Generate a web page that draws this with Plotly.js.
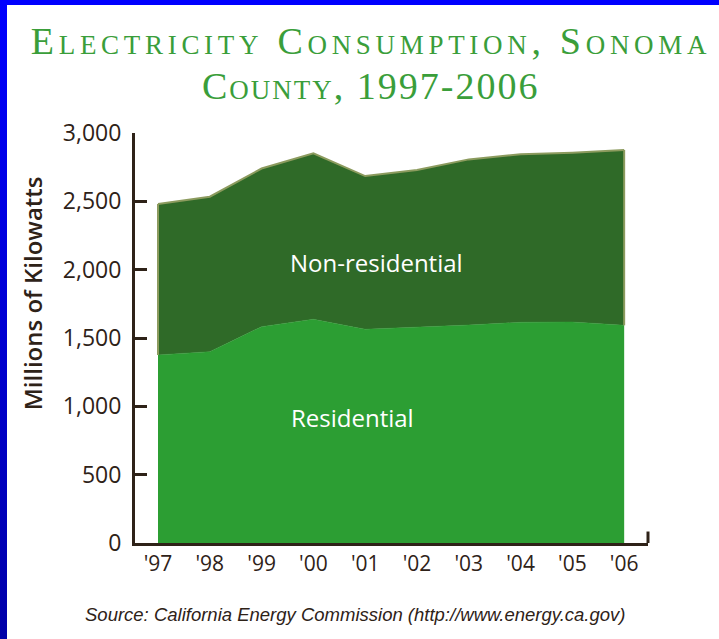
<!DOCTYPE html>
<html>
<head>
<meta charset="utf-8">
<script src="https://cdn.plot.ly/plotly-3.0.1.min.js"></script>
<style>
  body { margin: 0; background: #fff; }
  #chart { width: 719px; height: 639px; position: absolute; left: 0; top: 0; }
  .edge { position: absolute; z-index: 10; pointer-events: none; }
  #edgeLeft { left: 0; top: 0; width: 7px; height: 639px; background: linear-gradient(#0000ff, #0000a8); }
  #edgeTop { left: 0; top: 0; width: 719px; height: 5px; background: #0000ff; }
  /* the title in the original is widely tracked */
  .gtitle { letter-spacing: 4.7px; }
  .annotation[data-index="0"] text { letter-spacing: 2px; }
</style>
</head>
<body>
<div id="chart"></div>
<div class="edge" id="edgeLeft"></div>
<div class="edge" id="edgeTop"></div>
<script>
// Data (millions of kWh)
const years = ['97', '98', '99', '00', '01', '02', '03', '04', '05', '06'];
const yearLabels = years.map(y => "'" + y);
const residential = [1376, 1400, 1583, 1637, 1564, 1578, 1595, 1615, 1617, 1593];
const nonResidential = [1104, 1134, 1157, 1214, 1121, 1151, 1212, 1229, 1239, 1283];

const xIdx = years.map((_, i) => i);
const totals = residential.map((r, i) => r + nonResidential[i]);

const ink = '#2e2218';
const olive = '#8c9b5e';
const titleFont = { family: 'Liberation Serif, serif', size: 38, color: '#3a9e3a', variant: 'small-caps' };

const traces = [
    {
        x: xIdx,
        y: residential,
        type: 'scatter',
        mode: 'lines',
        stackgroup: 'one',
        fillcolor: '#2c9e33',
        line: { color: '#2c9e33', width: 0.5 },
        hoverinfo: 'skip'
    },
    {
        x: xIdx,
        y: nonResidential,
        type: 'scatter',
        mode: 'lines',
        stackgroup: 'one',
        fillcolor: '#2f6a28',
        line: { color: olive, width: 2 },
        hoverinfo: 'skip'
    }
];

const last = xIdx.length - 1;

const layout = {
    width: 719,
    height: 639,
    margin: { l: 135, r: 71, t: 133, b: 96 },
    paper_bgcolor: '#fff',
    plot_bgcolor: 'rgba(0,0,0,0)',
    showlegend: false,
    title: {
        text: 'Electricity Consumption, Sonoma',
        font: titleFont,
        xref: 'container',
        yref: 'container',
        x: 0.516,
        y: 1 - 27 / 639,
        yanchor: 'top'
    },
    xaxis: {
        range: [-0.444, 9.46],
        tickvals: xIdx,
        ticktext: yearLabels,
        showgrid: false,
        zeroline: false,
        showline: true,
        linecolor: ink,
        linewidth: 3,
        ticks: '',
        tickfont: { family: 'Open Sans, sans-serif', size: 21, color: ink },
        fixedrange: true
    },
    yaxis: {
        range: [0, 3000],
        tickvals: [0, 500, 1000, 1500, 2000, 2500, 3000],
        tickformat: ',d',
        showgrid: false,
        zeroline: false,
        showline: true,
        linecolor: ink,
        linewidth: 3,
        ticks: 'inside',
        ticklen: 12,
        tickwidth: 3,
        tickcolor: ink,
        ticklabelstandoff: 6,
        tickfont: { family: 'Open Sans, sans-serif', size: 23, color: ink },
        fixedrange: true
    },
    shapes: [
        // end tick on the right of the x axis
        { type: 'line', xref: 'paper', yref: 'paper', x0: 1, x1: 1, y0: 0, y1: 0.028,
          line: { color: ink, width: 3 } },
        // light edges of the stacked area
        { type: 'line', xref: 'x', yref: 'y', x0: 0, x1: 0, y0: residential[0], y1: totals[0],
          line: { color: olive, width: 2 } },
        { type: 'line', xref: 'x', yref: 'y', x0: last, x1: last, y0: residential[last], y1: totals[last],
          line: { color: olive, width: 2 } }
    ],
    annotations: [
        {
            // second title line
            text: 'County, 1997-2006',
            xref: 'paper', yref: 'paper', x: 0.46, y: 1.115, yanchor: 'middle',
            showarrow: false,
            font: titleFont
        },
        {
            text: 'Millions of Kilowatts',
            xref: 'paper', yref: 'paper', x: -0.2, y: 0.61,
            xanchor: 'center', yanchor: 'middle',
            textangle: -90, showarrow: false,
            font: { family: 'Open Sans, sans-serif', size: 24, color: ink, weight: 600 }
        },
        {
            text: 'Non-residential',
            xref: 'x', yref: 'y', x: 4.21, y: 2049, showarrow: false,
            font: { family: 'Open Sans, sans-serif', size: 24, color: '#ffffff' }
        },
        {
            text: 'Residential',
            xref: 'x', yref: 'y', x: 3.75, y: 915, showarrow: false,
            font: { family: 'Open Sans, sans-serif', size: 24, color: '#ffffff' }
        },
        {
            text: 'Source: California Energy Commission (http://www.energy.ca.gov)',
            xref: 'paper', yref: 'paper', x: 0.429, y: -0.205, showarrow: false,
            font: { family: 'Liberation Sans, sans-serif', size: 18.5, color: ink, style: 'italic' }
        }
    ]
};

Plotly.newPlot('chart', traces, layout, { displayModeBar: false, staticPlot: true });
</script>
</body>
</html>
